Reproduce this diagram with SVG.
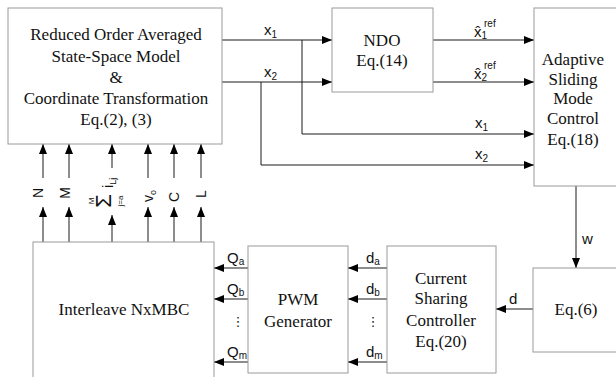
<svg xmlns="http://www.w3.org/2000/svg" width="616" height="377" viewBox="0 0 616 377">
<defs>
<marker id="ah" markerWidth="10" markerHeight="8" refX="10" refY="4" orient="auto" markerUnits="userSpaceOnUse"><path d="M0,0 L10,4 L0,8 z" fill="#000"/></marker>
<style>
.box{fill:#fff;stroke:#9a9a9a;stroke-width:1}
.bt{font-family:"Liberation Serif","Times New Roman",serif;font-size:17px;fill:#111;text-anchor:middle}
.c{fill:none;stroke:#1a1a1a;stroke-width:1}
.a{fill:none;stroke:#1a1a1a;stroke-width:1;marker-end:url(#ah)}
.lb{font-family:"Liberation Sans",Arial,sans-serif;font-size:15px;fill:#111}
.sb{font-size:10px}
.rl{font-family:"Liberation Sans",Arial,sans-serif;font-size:14px;fill:#111;text-anchor:middle}
.dots{font-family:"DejaVu Sans",sans-serif;font-size:13px;fill:#111;text-anchor:middle}
</style>
</defs>
<rect width="616" height="377" fill="#fff"/>

<g id="connectors">
<path class="a" d="M222,40 H332"/>
<path class="a" d="M222,82 H332"/>
<path class="a" d="M302,40 V134 H534"/>
<path class="a" d="M261,82 V165 H534"/>
<path class="a" d="M433,40 H534"/>
<path class="a" d="M433,82 H534"/>
<path class="a" d="M576,186 V268"/>
<path class="a" d="M533,309 H496"/>
<path class="a" d="M387,268 H348"/>
<path class="a" d="M387,299 H348"/>
<path class="a" d="M387,362 H348"/>
<path class="a" d="M248,268 H214"/>
<path class="a" d="M248,299 H214"/>
<path class="a" d="M248,362 H214"/>
<path class="a" d="M43,178 V144"/>
<path class="a" d="M69,178 V144"/>
<path class="a" d="M112,168 V144"/>
<path class="a" d="M148,178 V144"/>
<path class="a" d="M174,178 V144"/>
<path class="a" d="M201,178 V144"/>
<path class="a" d="M43,242 V207"/>
<path class="a" d="M69,242 V207"/>
<path class="a" d="M112,242 V215"/>
<path class="a" d="M148,242 V207"/>
<path class="a" d="M174,242 V207"/>
<path class="a" d="M201,242 V207"/>
</g>

<g id="labels">
<text class="lb" x="264" y="35">x<tspan class="sb" dy="3">1</tspan></text>
<text class="lb" x="264" y="77">x<tspan class="sb" dy="3">2</tspan></text>
<text class="lb" x="474" y="37">x̂<tspan class="sb" dy="2">1</tspan><tspan class="sb" x="484" y="27">ref</tspan></text>
<text class="lb" x="474" y="79">x̂<tspan class="sb" dy="2">2</tspan><tspan class="sb" x="484" y="69">ref</tspan></text>
<text class="lb" x="475" y="128">x<tspan class="sb" dy="3">1</tspan></text>
<text class="lb" x="475" y="159">x<tspan class="sb" dy="3">2</tspan></text>
<text class="lb" x="582" y="244">w</text>
<text class="lb" x="509" y="304">d</text>
<text class="lb" x="366" y="263">d<tspan class="sb" dy="2">a</tspan></text>
<text class="lb" x="366" y="294">d<tspan class="sb" dy="2">b</tspan></text>
<text class="lb" x="366" y="357">d<tspan class="sb" dy="2">m</tspan></text>
<text class="lb" x="227" y="263">Q<tspan class="sb" dy="2">a</tspan></text>
<text class="lb" x="227" y="294">Q<tspan class="sb" dy="2">b</tspan></text>
<text class="lb" x="227" y="357">Q<tspan class="sb" dy="2">m</tspan></text>
<text class="dots" x="238" y="326">⋮</text>
<text class="dots" x="373" y="326">⋮</text>
<text class="rl" transform="translate(43,193) rotate(-90)">N</text>
<text class="rl" transform="translate(70,193) rotate(-90)">M</text>
<g transform="translate(111,201) rotate(-90)">
<text class="rl" x="0" y="0" style="font-size:22px">Σ</text>
<text class="rl" x="0" y="-17" style="font-size:8px">M</text>
<text class="rl" x="0" y="12" style="font-size:8px">j=a</text>
<text class="rl" x="13" y="2" style="font-size:15px;text-anchor:start">i<tspan dy="3" style="font-size:9px">Lj</tspan></text>
</g>
<text class="rl" transform="translate(153,196) rotate(-90)">v<tspan dy="3" style="font-size:9px">o</tspan></text>
<text class="rl" transform="translate(179,197) rotate(-90)">C</text>
<text class="rl" transform="translate(206,194) rotate(-90)">L</text>
</g>

<g id="model">
<rect class="box" x="8" y="8" width="214" height="136"/>
<text class="bt" x="116" y="40">Reduced Order Averaged</text>
<text class="bt" x="116" y="62">State-Space Model</text>
<text class="bt" x="116" y="83">&amp;</text>
<text class="bt" x="116" y="104">Coordinate Transformation</text>
<text class="bt" x="116" y="125">Eq.(2), (3)</text>
</g>

<g id="ndo">
<rect class="box" x="332" y="8" width="101" height="84"/>
<text class="bt" x="382" y="46">NDO</text>
<text class="bt" x="382" y="66">Eq.(14)</text>
</g>

<g id="asmc">
<rect class="box" x="534" y="8" width="90" height="178"/>
<text class="bt" x="573" y="65">Adaptive</text>
<text class="bt" x="573" y="85">Sliding</text>
<text class="bt" x="573" y="104">Mode</text>
<text class="bt" x="573" y="124">Control</text>
<text class="bt" x="573" y="145">Eq.(18)</text>
</g>

<g id="eq6">
<rect class="box" x="533" y="268" width="91" height="84"/>
<text class="bt" x="576" y="315">Eq.(6)</text>
</g>

<g id="csc">
<rect class="box" x="387" y="246" width="109" height="127"/>
<text class="bt" x="441" y="284">Current</text>
<text class="bt" x="441" y="304">Sharing</text>
<text class="bt" x="441" y="326">Controller</text>
<text class="bt" x="441" y="347">Eq.(20)</text>
</g>

<g id="pwm">
<rect class="box" x="248" y="246" width="100" height="127"/>
<text class="bt" x="298" y="305">PWM</text>
<text class="bt" x="298" y="327">Generator</text>
</g>

<g id="nxmbc">
<rect class="box" x="33" y="242" width="181" height="140"/>
<text class="bt" x="124" y="315">Interleave NxMBC</text>
</g>
</svg>
